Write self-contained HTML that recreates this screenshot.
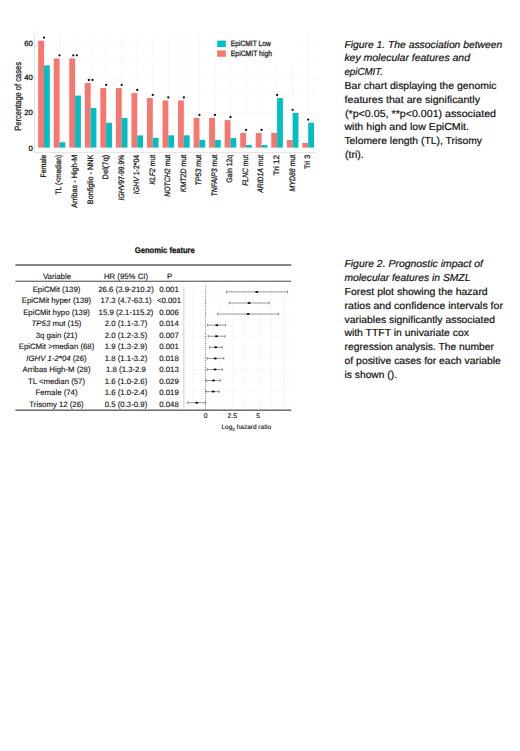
<!DOCTYPE html>
<html><head><meta charset="utf-8"><style>
html,body{margin:0;padding:0;background:#fff;width:520px;height:751px;overflow:hidden}
body{position:relative;font-family:"Liberation Sans", sans-serif}
svg text,svg tspan{font-family:"Liberation Sans", sans-serif}
</style></head><body>
<svg width="520" height="751" viewBox="0 0 520 751" text-rendering="geometricPrecision" style="position:absolute;left:0;top:0">
<path d="M44.00 33.5V152.6 M59.54 33.5V152.6 M75.08 33.5V152.6 M90.62 33.5V152.6 M106.16 33.5V152.6 M121.70 33.5V152.6 M137.24 33.5V152.6 M152.78 33.5V152.6 M168.32 33.5V152.6 M183.86 33.5V152.6 M199.40 33.5V152.6 M214.94 33.5V152.6 M230.48 33.5V152.6 M246.02 33.5V152.6 M261.56 33.5V152.6 M277.10 33.5V152.6 M292.64 33.5V152.6 M308.18 33.5V152.6 M34.5 147.60H316.0 M34.5 130.15H316.0 M34.5 112.70H316.0 M34.5 95.25H316.0 M34.5 77.80H316.0 M34.5 60.35H316.0 M34.5 42.90H316.0" stroke="#f3f3f3" stroke-width="0.6" fill="none"/>
<path d="M34.5 33.5V152.6H316.0" stroke="#e0e0e0" stroke-width="0.9" fill="none"/>
<path d="M32.9 43.5H34.5" stroke="#d8d8d8" stroke-width="0.7"/>
<text x="32.7" y="46.25" font-size="7.7" text-anchor="end" fill="#1a1a1a" stroke="#1a1a1a" stroke-width="0.3">60</text>
<path d="M32.9 77.7H34.5" stroke="#d8d8d8" stroke-width="0.7"/>
<text x="32.7" y="80.45" font-size="7.7" text-anchor="end" fill="#1a1a1a" stroke="#1a1a1a" stroke-width="0.3">40</text>
<path d="M32.9 112.3H34.5" stroke="#d8d8d8" stroke-width="0.7"/>
<text x="32.7" y="115.05" font-size="7.7" text-anchor="end" fill="#1a1a1a" stroke="#1a1a1a" stroke-width="0.3">20</text>
<path d="M32.9 148.1H34.5" stroke="#d8d8d8" stroke-width="0.7"/>
<text x="32.7" y="150.85" font-size="7.7" text-anchor="end" fill="#1a1a1a" stroke="#1a1a1a" stroke-width="0.3">0</text>
<rect x="38.20" y="40.7" width="5.8" height="106.90" fill="#F8766D"/>
<rect x="44.00" y="65.4" width="5.8" height="82.20" fill="#00BFC4"/>
<circle cx="44.00" cy="37.60" r="1.15" fill="#111"/>
<rect x="53.74" y="58.4" width="5.8" height="89.20" fill="#F8766D"/>
<rect x="59.54" y="142.3" width="5.8" height="5.30" fill="#00BFC4"/>
<circle cx="59.54" cy="55.30" r="1.15" fill="#111"/>
<rect x="69.28" y="58.4" width="5.8" height="89.20" fill="#F8766D"/>
<rect x="75.08" y="95.6" width="5.8" height="52.00" fill="#00BFC4"/>
<circle cx="73.28" cy="55.30" r="1.15" fill="#111"/>
<circle cx="76.88" cy="55.30" r="1.15" fill="#111"/>
<rect x="84.82" y="83.1" width="5.8" height="64.50" fill="#F8766D"/>
<rect x="90.62" y="107.9" width="5.8" height="39.70" fill="#00BFC4"/>
<circle cx="88.82" cy="80.00" r="1.15" fill="#111"/>
<circle cx="92.42" cy="80.00" r="1.15" fill="#111"/>
<rect x="100.36" y="88.0" width="5.8" height="59.60" fill="#F8766D"/>
<rect x="106.16" y="122.8" width="5.8" height="24.80" fill="#00BFC4"/>
<circle cx="106.16" cy="84.90" r="1.15" fill="#111"/>
<rect x="115.90" y="88.0" width="5.8" height="59.60" fill="#F8766D"/>
<rect x="121.70" y="118.0" width="5.8" height="29.60" fill="#00BFC4"/>
<circle cx="121.70" cy="84.90" r="1.15" fill="#111"/>
<rect x="131.44" y="93.1" width="5.8" height="54.50" fill="#F8766D"/>
<rect x="137.24" y="135.4" width="5.8" height="12.20" fill="#00BFC4"/>
<circle cx="137.24" cy="90.00" r="1.15" fill="#111"/>
<rect x="146.98" y="98.0" width="5.8" height="49.60" fill="#F8766D"/>
<rect x="152.78" y="137.9" width="5.8" height="9.70" fill="#00BFC4"/>
<circle cx="152.78" cy="94.90" r="1.15" fill="#111"/>
<rect x="162.52" y="100.5" width="5.8" height="47.10" fill="#F8766D"/>
<rect x="168.32" y="135.3" width="5.8" height="12.30" fill="#00BFC4"/>
<circle cx="168.32" cy="97.40" r="1.15" fill="#111"/>
<rect x="178.06" y="100.5" width="5.8" height="47.10" fill="#F8766D"/>
<rect x="183.86" y="135.3" width="5.8" height="12.30" fill="#00BFC4"/>
<circle cx="183.86" cy="97.40" r="1.15" fill="#111"/>
<rect x="193.60" y="118.0" width="5.8" height="29.60" fill="#F8766D"/>
<rect x="199.40" y="139.9" width="5.8" height="7.70" fill="#00BFC4"/>
<circle cx="199.40" cy="114.90" r="1.15" fill="#111"/>
<rect x="209.14" y="118.0" width="5.8" height="29.60" fill="#F8766D"/>
<rect x="214.94" y="139.9" width="5.8" height="7.70" fill="#00BFC4"/>
<circle cx="214.94" cy="114.90" r="1.15" fill="#111"/>
<rect x="224.68" y="120.1" width="5.8" height="27.50" fill="#F8766D"/>
<rect x="230.48" y="138.1" width="5.8" height="9.50" fill="#00BFC4"/>
<circle cx="230.48" cy="117.00" r="1.15" fill="#111"/>
<rect x="240.22" y="133.0" width="5.8" height="14.60" fill="#F8766D"/>
<rect x="246.02" y="145.0" width="5.8" height="2.60" fill="#00BFC4"/>
<circle cx="246.02" cy="129.90" r="1.15" fill="#111"/>
<rect x="255.76" y="133.0" width="5.8" height="14.60" fill="#F8766D"/>
<rect x="261.56" y="145.0" width="5.8" height="2.60" fill="#00BFC4"/>
<circle cx="261.56" cy="129.90" r="1.15" fill="#111"/>
<rect x="271.30" y="132.8" width="5.8" height="14.80" fill="#F8766D"/>
<rect x="277.10" y="98.1" width="5.8" height="49.50" fill="#00BFC4"/>
<circle cx="277.10" cy="95.00" r="1.15" fill="#111"/>
<rect x="286.84" y="140.0" width="5.8" height="7.60" fill="#F8766D"/>
<rect x="292.64" y="112.9" width="5.8" height="34.70" fill="#00BFC4"/>
<circle cx="292.64" cy="109.80" r="1.15" fill="#111"/>
<rect x="302.38" y="142.9" width="5.8" height="4.70" fill="#F8766D"/>
<rect x="308.18" y="122.7" width="5.8" height="24.90" fill="#00BFC4"/>
<circle cx="308.18" cy="119.60" r="1.15" fill="#111"/>
<text transform="translate(45.90,154.8) rotate(-90)" font-size="7.9" text-anchor="end" fill="#1a1a1a" stroke="#1a1a1a" stroke-width="0.26" textLength="22.6" lengthAdjust="spacingAndGlyphs"><tspan>Female</tspan></text>
<text transform="translate(61.44,154.8) rotate(-90)" font-size="7.9" text-anchor="end" fill="#1a1a1a" stroke="#1a1a1a" stroke-width="0.26" textLength="39.6" lengthAdjust="spacingAndGlyphs"><tspan>TL (&lt;median)</tspan></text>
<text transform="translate(76.98,154.8) rotate(-90)" font-size="7.9" text-anchor="end" fill="#1a1a1a" stroke="#1a1a1a" stroke-width="0.26" textLength="53" lengthAdjust="spacingAndGlyphs"><tspan>Arribas - High-M</tspan></text>
<text transform="translate(92.52,154.8) rotate(-90)" font-size="7.9" text-anchor="end" fill="#1a1a1a" stroke="#1a1a1a" stroke-width="0.26" textLength="49.4" lengthAdjust="spacingAndGlyphs"><tspan>Bonfiglio - NNK</tspan></text>
<text transform="translate(108.06,154.8) rotate(-90)" font-size="7.9" text-anchor="end" fill="#1a1a1a" stroke="#1a1a1a" stroke-width="0.26" textLength="24.6" lengthAdjust="spacingAndGlyphs"><tspan>Del(7q)</tspan></text>
<text transform="translate(123.60,154.8) rotate(-90)" font-size="7.9" text-anchor="end" fill="#1a1a1a" stroke="#1a1a1a" stroke-width="0.26" textLength="45.6" lengthAdjust="spacingAndGlyphs"><tspan font-style="italic">IGHV</tspan><tspan>97-99.9%</tspan></text>
<text transform="translate(139.14,154.8) rotate(-90)" font-size="7.9" text-anchor="end" fill="#1a1a1a" stroke="#1a1a1a" stroke-width="0.26" textLength="39.4" lengthAdjust="spacingAndGlyphs"><tspan font-style="italic">IGHV</tspan><tspan> 1-2*04</tspan></text>
<text transform="translate(154.68,154.8) rotate(-90)" font-size="7.9" text-anchor="end" fill="#1a1a1a" stroke="#1a1a1a" stroke-width="0.26" textLength="29.8" lengthAdjust="spacingAndGlyphs"><tspan font-style="italic">KLF2</tspan><tspan> mut</tspan></text>
<text transform="translate(170.22,154.8) rotate(-90)" font-size="7.9" text-anchor="end" fill="#1a1a1a" stroke="#1a1a1a" stroke-width="0.26" textLength="42" lengthAdjust="spacingAndGlyphs"><tspan font-style="italic">NOTCH2</tspan><tspan> mut</tspan></text>
<text transform="translate(185.76,154.8) rotate(-90)" font-size="7.9" text-anchor="end" fill="#1a1a1a" stroke="#1a1a1a" stroke-width="0.26" textLength="37.4" lengthAdjust="spacingAndGlyphs"><tspan font-style="italic">KMT2D</tspan><tspan> mut</tspan></text>
<text transform="translate(201.30,154.8) rotate(-90)" font-size="7.9" text-anchor="end" fill="#1a1a1a" stroke="#1a1a1a" stroke-width="0.26" textLength="30.8" lengthAdjust="spacingAndGlyphs"><tspan font-style="italic">TP53</tspan><tspan> mut</tspan></text>
<text transform="translate(216.84,154.8) rotate(-90)" font-size="7.9" text-anchor="end" fill="#1a1a1a" stroke="#1a1a1a" stroke-width="0.26" textLength="41.8" lengthAdjust="spacingAndGlyphs"><tspan font-style="italic">TNFAIP3</tspan><tspan> mut</tspan></text>
<text transform="translate(232.38,154.8) rotate(-90)" font-size="7.9" text-anchor="end" fill="#1a1a1a" stroke="#1a1a1a" stroke-width="0.26" textLength="28" lengthAdjust="spacingAndGlyphs"><tspan>Gain 12q</tspan></text>
<text transform="translate(247.92,154.8) rotate(-90)" font-size="7.9" text-anchor="end" fill="#1a1a1a" stroke="#1a1a1a" stroke-width="0.26" textLength="31" lengthAdjust="spacingAndGlyphs"><tspan font-style="italic">FLNC</tspan><tspan> mut</tspan></text>
<text transform="translate(263.46,154.8) rotate(-90)" font-size="7.9" text-anchor="end" fill="#1a1a1a" stroke="#1a1a1a" stroke-width="0.26" textLength="38" lengthAdjust="spacingAndGlyphs"><tspan font-style="italic">ARID1A</tspan><tspan> mut</tspan></text>
<text transform="translate(279.00,154.8) rotate(-90)" font-size="7.9" text-anchor="end" fill="#1a1a1a" stroke="#1a1a1a" stroke-width="0.26" textLength="20.8" lengthAdjust="spacingAndGlyphs"><tspan>Tri 12</tspan></text>
<text transform="translate(294.54,154.8) rotate(-90)" font-size="7.9" text-anchor="end" fill="#1a1a1a" stroke="#1a1a1a" stroke-width="0.26" textLength="36.6" lengthAdjust="spacingAndGlyphs"><tspan font-style="italic">MYD88</tspan><tspan> mut</tspan></text>
<text transform="translate(310.08,154.8) rotate(-90)" font-size="7.9" text-anchor="end" fill="#1a1a1a" stroke="#1a1a1a" stroke-width="0.26" textLength="14.3" lengthAdjust="spacingAndGlyphs"><tspan>Tri 3</tspan></text>
<text transform="translate(21.3,96.4) rotate(-90)" font-size="9.0" text-anchor="middle" fill="#1a1a1a" stroke="#1a1a1a" stroke-width="0.28" textLength="68.6" lengthAdjust="spacingAndGlyphs">Percentage of cases</text>
<rect x="206" y="33" width="90" height="29.5" fill="#fff"/>
<rect x="217.2" y="40.6" width="8.6" height="6.5" fill="#00BFC4"/>
<rect x="217.2" y="50.4" width="8.6" height="6.4" fill="#F8766D"/>
<text x="230.8" y="46.3" font-size="7.7" fill="#1a1a1a" stroke="#1a1a1a" stroke-width="0.26" textLength="40" lengthAdjust="spacingAndGlyphs">EpiCMIT Low</text>
<text x="230.8" y="56.0" font-size="7.7" fill="#1a1a1a" stroke="#1a1a1a" stroke-width="0.26" textLength="41.2" lengthAdjust="spacingAndGlyphs">EpiCMIT high</text>
<text x="344.4" y="47.5" font-size="10.2" font-style="italic" fill="#111" stroke="#111" stroke-width="0.2" textLength="157.9" lengthAdjust="spacingAndGlyphs">Figure 1. The association between</text>
<text x="344.4" y="61.3" font-size="10.2" font-style="italic" fill="#111" stroke="#111" stroke-width="0.2" textLength="125.6" lengthAdjust="spacingAndGlyphs">key molecular features and</text>
<text x="344.4" y="75.1" font-size="10.2" font-style="italic" fill="#111" stroke="#111" stroke-width="0.2" textLength="38.6" lengthAdjust="spacingAndGlyphs">epiCMIT.</text>
<text x="344.6" y="88.9" font-size="10.2" fill="#111" stroke="#111" stroke-width="0.2" textLength="151.9" lengthAdjust="spacingAndGlyphs">Bar chart displaying the genomic</text>
<text x="344.6" y="102.7" font-size="10.2" fill="#111" stroke="#111" stroke-width="0.2" textLength="135.4" lengthAdjust="spacingAndGlyphs">features that are significantly</text>
<text x="345.0" y="116.5" font-size="10.2" fill="#111" stroke="#111" stroke-width="0.2" textLength="151.0" lengthAdjust="spacingAndGlyphs">(*p&lt;0.05, **p&lt;0.001) associated</text>
<text x="344.4" y="130.3" font-size="10.2" fill="#111" stroke="#111" stroke-width="0.2" textLength="124.6" lengthAdjust="spacingAndGlyphs">with high and low EpiCMit.</text>
<text x="344.4" y="144.1" font-size="10.2" fill="#111" stroke="#111" stroke-width="0.2" textLength="137.6" lengthAdjust="spacingAndGlyphs">Telomere length (TL), Trisomy</text>
<text x="345.0" y="157.9" font-size="10.2" fill="#111" stroke="#111" stroke-width="0.2" textLength="18.8" lengthAdjust="spacingAndGlyphs">(tri).</text>
<text x="344.4" y="267.3" font-size="10.2" font-style="italic" fill="#111" stroke="#111" stroke-width="0.2" textLength="138.6" lengthAdjust="spacingAndGlyphs">Figure 2. Prognostic impact of</text>
<text x="344.4" y="281.1" font-size="10.2" font-style="italic" fill="#111" stroke="#111" stroke-width="0.2" textLength="126.0" lengthAdjust="spacingAndGlyphs">molecular features in SMZL</text>
<text x="344.6" y="294.9" font-size="10.2" fill="#111" stroke="#111" stroke-width="0.2" textLength="143.1" lengthAdjust="spacingAndGlyphs">Forest plot showing the hazard</text>
<text x="344.6" y="308.7" font-size="10.2" fill="#111" stroke="#111" stroke-width="0.2" textLength="158.4" lengthAdjust="spacingAndGlyphs">ratios and confidence intervals for</text>
<text x="344.6" y="322.5" font-size="10.2" fill="#111" stroke="#111" stroke-width="0.2" textLength="150.4" lengthAdjust="spacingAndGlyphs">variables significantly associated</text>
<text x="344.4" y="336.3" font-size="10.2" fill="#111" stroke="#111" stroke-width="0.2" textLength="124.6" lengthAdjust="spacingAndGlyphs">with TTFT in univariate cox</text>
<text x="344.6" y="350.1" font-size="10.2" fill="#111" stroke="#111" stroke-width="0.2" textLength="149.4" lengthAdjust="spacingAndGlyphs">regression analysis. The number</text>
<text x="344.6" y="363.9" font-size="10.2" fill="#111" stroke="#111" stroke-width="0.2" textLength="156.2" lengthAdjust="spacingAndGlyphs">of positive cases for each variable</text>
<text x="344.6" y="377.7" font-size="10.2" fill="#111" stroke="#111" stroke-width="0.2" textLength="52.4" lengthAdjust="spacingAndGlyphs">is shown ().</text>
<text x="164.8" y="253.0" font-size="8.4" font-weight="bold" text-anchor="middle" fill="#111" stroke="#111" stroke-width="0.25" textLength="60" lengthAdjust="spacingAndGlyphs">Genomic feature</text>
<rect x="15.4" y="264.3" width="275.9" height="1.4" fill="#555"/>
<rect x="15.4" y="280.7" width="275.9" height="1.1" fill="#555"/>
<rect x="15.4" y="409.6" width="275.9" height="1.1" fill="#333"/>
<text x="57.0" y="279.00" font-size="7.8" text-anchor="middle" fill="#111" stroke="#111" stroke-width="0.12">Variable</text>
<text x="126.0" y="279.00" font-size="7.8" text-anchor="middle" fill="#111" stroke="#111" stroke-width="0.12">HR (95% CI)</text>
<text x="169.5" y="279.00" font-size="7.8" text-anchor="middle" fill="#111" stroke="#111" stroke-width="0.12">P</text>
<text x="56.5" y="291.50" font-size="7.8" text-anchor="middle" fill="#111" stroke="#111" stroke-width="0.12">EpiCMit (139)</text>
<text x="126.0" y="291.50" font-size="7.8" text-anchor="middle" fill="#111" stroke="#111" stroke-width="0.12">26.6 (3.9-210.2)</text>
<text x="169.0" y="291.50" font-size="7.8" text-anchor="middle" fill="#111" stroke="#111" stroke-width="0.12">0.001</text>
<text x="56.5" y="303.02" font-size="7.8" text-anchor="middle" fill="#111" stroke="#111" stroke-width="0.12">EpiCMit hyper (139)</text>
<text x="126.0" y="303.02" font-size="7.8" text-anchor="middle" fill="#111" stroke="#111" stroke-width="0.12">17.3 (4.7-63.1)</text>
<text x="169.0" y="303.02" font-size="7.8" text-anchor="middle" fill="#111" stroke="#111" stroke-width="0.12">&lt;0.001</text>
<text x="56.5" y="314.54" font-size="7.8" text-anchor="middle" fill="#111" stroke="#111" stroke-width="0.12">EpiCMit hypo (139)</text>
<text x="126.0" y="314.54" font-size="7.8" text-anchor="middle" fill="#111" stroke="#111" stroke-width="0.12">15.9 (2.1-115.2)</text>
<text x="169.0" y="314.54" font-size="7.8" text-anchor="middle" fill="#111" stroke="#111" stroke-width="0.12">0.006</text>
<text x="56.5" y="326.06" font-size="7.8" text-anchor="middle" fill="#111" stroke="#111" stroke-width="0.12"><tspan font-style="italic">TP53</tspan> mut (15)</text>
<text x="126.0" y="326.06" font-size="7.8" text-anchor="middle" fill="#111" stroke="#111" stroke-width="0.12">2.0 (1.1-3.7)</text>
<text x="169.0" y="326.06" font-size="7.8" text-anchor="middle" fill="#111" stroke="#111" stroke-width="0.12">0.014</text>
<text x="56.5" y="337.58" font-size="7.8" text-anchor="middle" fill="#111" stroke="#111" stroke-width="0.12">3q gain (21)</text>
<text x="126.0" y="337.58" font-size="7.8" text-anchor="middle" fill="#111" stroke="#111" stroke-width="0.12">2.0 (1.2-3.5)</text>
<text x="169.0" y="337.58" font-size="7.8" text-anchor="middle" fill="#111" stroke="#111" stroke-width="0.12">0.007</text>
<text x="56.5" y="349.10" font-size="7.8" text-anchor="middle" fill="#111" stroke="#111" stroke-width="0.12">EpiCMit &gt;median (68)</text>
<text x="126.0" y="349.10" font-size="7.8" text-anchor="middle" fill="#111" stroke="#111" stroke-width="0.12">1.9 (1.3-2.9)</text>
<text x="169.0" y="349.10" font-size="7.8" text-anchor="middle" fill="#111" stroke="#111" stroke-width="0.12">0.001</text>
<text x="56.5" y="360.62" font-size="7.8" text-anchor="middle" fill="#111" stroke="#111" stroke-width="0.12"><tspan font-style="italic">IGHV 1-2*04</tspan> (26)</text>
<text x="126.0" y="360.62" font-size="7.8" text-anchor="middle" fill="#111" stroke="#111" stroke-width="0.12">1.8 (1.1-3.2)</text>
<text x="169.0" y="360.62" font-size="7.8" text-anchor="middle" fill="#111" stroke="#111" stroke-width="0.12">0.018</text>
<text x="56.5" y="372.14" font-size="7.8" text-anchor="middle" fill="#111" stroke="#111" stroke-width="0.12">Arribas High-M (28)</text>
<text x="126.0" y="372.14" font-size="7.8" text-anchor="middle" fill="#111" stroke="#111" stroke-width="0.12">1.8 (1.3-2.9</text>
<text x="169.0" y="372.14" font-size="7.8" text-anchor="middle" fill="#111" stroke="#111" stroke-width="0.12">0.013</text>
<text x="56.5" y="383.66" font-size="7.8" text-anchor="middle" fill="#111" stroke="#111" stroke-width="0.12">TL &lt;median (57)</text>
<text x="126.0" y="383.66" font-size="7.8" text-anchor="middle" fill="#111" stroke="#111" stroke-width="0.12">1.6 (1.0-2.6)</text>
<text x="169.0" y="383.66" font-size="7.8" text-anchor="middle" fill="#111" stroke="#111" stroke-width="0.12">0.029</text>
<text x="56.5" y="395.18" font-size="7.8" text-anchor="middle" fill="#111" stroke="#111" stroke-width="0.12">Female (74)</text>
<text x="126.0" y="395.18" font-size="7.8" text-anchor="middle" fill="#111" stroke="#111" stroke-width="0.12">1.6 (1.0-2.4)</text>
<text x="169.0" y="395.18" font-size="7.8" text-anchor="middle" fill="#111" stroke="#111" stroke-width="0.12">0.019</text>
<text x="56.5" y="406.70" font-size="7.8" text-anchor="middle" fill="#111" stroke="#111" stroke-width="0.12">Trisomy 12 (26)</text>
<text x="126.0" y="406.70" font-size="7.8" text-anchor="middle" fill="#111" stroke="#111" stroke-width="0.12">0.5 (0.3-0.9)</text>
<text x="169.0" y="406.70" font-size="7.8" text-anchor="middle" fill="#111" stroke="#111" stroke-width="0.12">0.048</text>
<path d="M193.0 285V409.6 M219.0 285V409.6 M232.6 285V409.6 M245.5 285V409.6 M258.5 285V409.6 M271.5 285V409.6 M284.5 285V409.6 M184 291.90H291 M184 302.98H291 M184 314.06H291 M184 325.14H291 M184 336.22H291 M184 347.30H291 M184 358.38H291 M184 369.46H291 M184 380.54H291 M184 391.62H291 M184 402.70H291" stroke="#f4f4f4" stroke-width="0.6" fill="none"/>
<path d="M183.8 287V409.6" stroke="#c4c4c4" stroke-width="0.8"/>
<path d="M205.6 285.5V409.6" stroke="#222" stroke-width="0.7" stroke-dasharray="0.9 1.3"/>
<path d="M226.5 291.90H287.5M226.5 290.40V293.40M287.5 290.40V293.40" stroke="#5a5a5a" stroke-width="0.6" fill="none"/>
<ellipse cx="256.80" cy="291.90" rx="1.6" ry="1.0" fill="#111"/>
<path d="M229.4 302.98H269.2M229.4 301.48V304.48M269.2 301.48V304.48" stroke="#5a5a5a" stroke-width="0.6" fill="none"/>
<ellipse cx="249.10" cy="302.98" rx="1.6" ry="1.0" fill="#111"/>
<path d="M217.6 314.06H278.6M217.6 312.56V315.56M278.6 312.56V315.56" stroke="#5a5a5a" stroke-width="0.6" fill="none"/>
<ellipse cx="248.10" cy="314.06" rx="1.6" ry="1.0" fill="#111"/>
<path d="M207.7 325.14H225.6M207.7 323.64V326.64M225.6 323.64V326.64" stroke="#5a5a5a" stroke-width="0.6" fill="none"/>
<ellipse cx="216.90" cy="325.14" rx="1.6" ry="1.0" fill="#111"/>
<path d="M208.2 336.22H225.0M208.2 334.72V337.72M225.0 334.72V337.72" stroke="#5a5a5a" stroke-width="0.6" fill="none"/>
<ellipse cx="216.50" cy="336.22" rx="1.6" ry="1.0" fill="#111"/>
<path d="M209.5 347.30H222.2M209.5 345.80V348.80M222.2 345.80V348.80" stroke="#5a5a5a" stroke-width="0.6" fill="none"/>
<ellipse cx="215.80" cy="347.30" rx="1.6" ry="1.0" fill="#111"/>
<path d="M207.2 358.38H223.8M207.2 356.88V359.88M223.8 356.88V359.88" stroke="#5a5a5a" stroke-width="0.6" fill="none"/>
<ellipse cx="215.30" cy="358.38" rx="1.6" ry="1.0" fill="#111"/>
<path d="M207.2 369.46H222.2M207.2 367.96V370.96M222.2 367.96V370.96" stroke="#5a5a5a" stroke-width="0.6" fill="none"/>
<ellipse cx="215.10" cy="369.46" rx="1.6" ry="1.0" fill="#111"/>
<path d="M206.0 380.54H220.4M206.0 379.04V382.04M220.4 379.04V382.04" stroke="#5a5a5a" stroke-width="0.6" fill="none"/>
<ellipse cx="213.50" cy="380.54" rx="1.6" ry="1.0" fill="#111"/>
<path d="M206.0 391.62H219.2M206.0 390.12V393.12M219.2 390.12V393.12" stroke="#5a5a5a" stroke-width="0.6" fill="none"/>
<ellipse cx="213.20" cy="391.62" rx="1.6" ry="1.0" fill="#111"/>
<path d="M187.8 402.70H205.4M187.8 401.20V404.20M205.4 401.20V404.20" stroke="#5a5a5a" stroke-width="0.6" fill="none"/>
<ellipse cx="196.80" cy="402.70" rx="1.6" ry="1.0" fill="#111"/>
<text x="205.6" y="418.2" font-size="6.8" text-anchor="middle" fill="#111" stroke="#111" stroke-width="0.12">0</text>
<text x="232.2" y="418.2" font-size="6.8" text-anchor="middle" fill="#111" stroke="#111" stroke-width="0.12">2.5</text>
<text x="258.1" y="418.2" font-size="6.8" text-anchor="middle" fill="#111" stroke="#111" stroke-width="0.12">5</text>
<text x="221.5" y="429.4" font-size="6.5" fill="#111" stroke="#111" stroke-width="0.12">Log<tspan font-size="4.5" dy="1.5">2</tspan><tspan dy="-1.5"> hazard ratio</tspan></text>
</svg>
</body></html>
